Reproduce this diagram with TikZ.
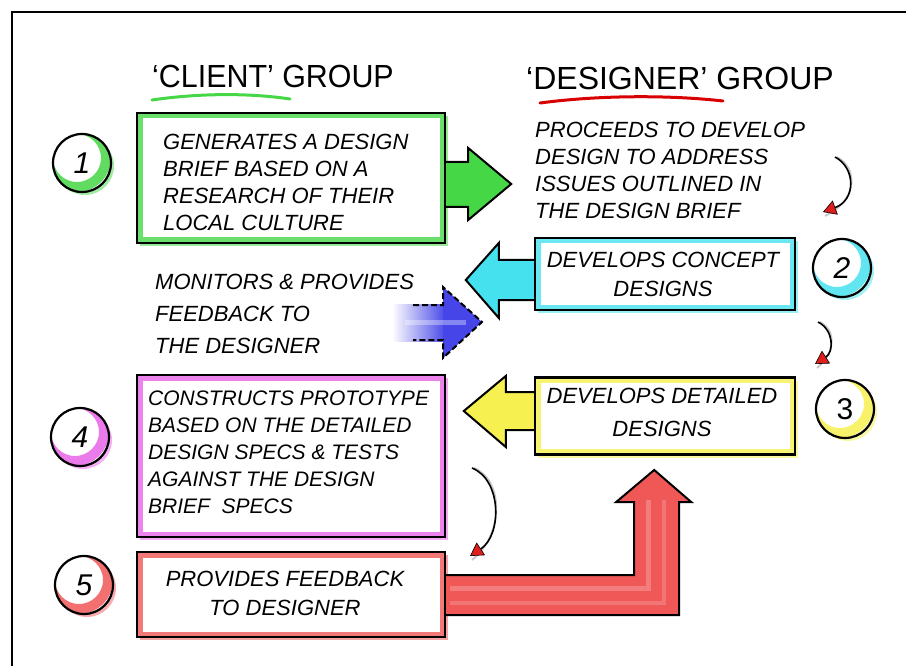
\documentclass[tikz,border=0pt]{standalone}
\usepackage{fontspec}
\setmainfont{Liberation Sans}
\usetikzlibrary{shadows,calc,arrows.meta}
\definecolor{grn}{RGB}{70,215,70}
\definecolor{cyn}{RGB}{70,225,238}
\definecolor{ylw}{RGB}{246,240,80}
\definecolor{mag}{RGB}{232,100,232}
\definecolor{rd}{RGB}{240,88,88}
\definecolor{blu}{RGB}{70,70,232}
\definecolor{arrred}{RGB}{225,30,30}
\tikzset{
  box/.style={rectangle, draw=black, line width=2.4pt, fill=white, inner sep=0pt,
    path picture={\draw[#1, line width=11pt, opacity=.8] (path picture bounding box.south west) rectangle (path picture bounding box.north east);},
    drop shadow={shadow xshift=3pt, shadow yshift=-3pt, fill=#1, opacity=.55}},
  numc/.style={circle, draw=black, line width=2.2pt, fill=white, minimum size=58pt, inner sep=0pt,
    font=\itshape\fontsize{30}{30}\selectfont,
    path picture={\draw[#1, line width=10pt, opacity=.85] ([shift={(-5pt,5pt)}]path picture bounding box.center) circle (29pt);},
    drop shadow={shadow xshift=3pt, shadow yshift=-3pt, fill=#1, opacity=.5}},
  txt/.style={inner sep=0pt, align=left, anchor=west, font=\itshape\fontsize{22}{#1}\selectfont},
  txt/.default=27,
  ctxt/.style={inner sep=0pt, align=center, font=\itshape\fontsize{22}{#1}\selectfont},
  ctxt/.default=29,
  ttl/.style={inner sep=0pt, font=\fontsize{32}{32}\selectfont},
  blk/.style={draw=black, line width=2pt, line join=miter, fill=#1},
  curv/.style={line width=1.6pt, -{Triangle[length=13pt, width=15pt, fill=arrred, color=black, line width=0.6pt]}},
  curvsh/.style={line width=1.8pt, gray!45},
  ul/.style={line width=3pt, line cap=round, #1},
}
\begin{document}
\begin{tikzpicture}[x=1pt, y=-1pt]
\useasboundingbox (0,0) rectangle (906,666);
% frame
\draw[line width=2.5pt] (12,666) -- (12,12) -- (906,12);
% titles
\node[ttl] (tc) at (273,76) {\scalebox{0.95}[1]{‘CLIENT’ GROUP}};
\node[ttl] (td) at (680,78) {‘DESIGNER’ GROUP};
\draw[ul=grn] (152,100) .. controls (200,93) and (250,93) .. (290,99);
\draw[ul=red!85!black] (540,103) .. controls (600,95) and (670,95) .. (723,101);
% boxes
\node[box=grn, minimum width=308pt, minimum height=130pt] (b1) at (291,178) {};
\node[box=cyn, minimum width=260pt, minimum height=72pt] (b2) at (665,274) {};
\node[box=ylw, minimum width=260pt, minimum height=77pt] (b3) at (665,416) {};
\node[box=mag, minimum width=308pt, minimum height=162pt] (b4) at (291,456) {};
\node[box=rd, minimum width=308pt, minimum height=85pt] (b5) at (291,594.5) {};
% block arrows
\filldraw[blk=grn] ($(b1.east)+(0,-16)$) -- ++(22,0) -- ++(0,-14) -- ++(43,36) -- ++(-43,36) -- ++(0,-13) -- ++(-22,0);
\filldraw[blk=cyn] ($(b2.west)+(0,-14)$) -- ++(-35,0) -- ++(0,-17) -- ++(-33,37) -- ++(33,38) -- ++(0,-18) -- ++(35,0);
\filldraw[blk=ylw] ($(b3.west)+(0,-24)$) -- ++(-28,0) -- ++(0,-16) -- ++(-42,35) -- ++(42,36) -- ++(0,-17) -- ++(28,0);
\filldraw[blk=rd] ($(b5.east)+(0,-19.5)$) -- ++(188,0) -- ++(0,-73) -- ++(-18,0) -- ++(38,-32) -- ++(37,32) -- ++(-12,0) -- ++(0,113) -- ++(-233,0);
\draw[white, opacity=.22, line width=5pt] (450,588) -- (648,588) -- (648,500);
\draw[white, opacity=.18, line width=4pt] (450,603) -- (664,603) -- (664,500);
% blue feedback arrow
\shade[left color=white, right color=blu] (392,304) rectangle (446,341);
\fill[blu] (443,305) -- (443,287) -- (482,322) -- (443,358) -- (443,340) -- cycle;
\draw[white, opacity=.35, line width=5pt] (405,322) -- (466,322);
\draw[black, line width=2pt, dash pattern=on 6pt off 3pt] (413,305) -- (443,305) -- (443,287) -- (482,322) -- (443,358) -- (443,340) -- (413,340);
% texts
\node[txt] (t1) at (163,182) {GENERATES A DESIGN\\BRIEF BASED ON A\\RESEARCH OF THEIR\\LOCAL CULTURE};
\node[txt] (tp) at (535,170) {PROCEEDS TO DEVELOP\\DESIGN TO ADDRESS\\ISSUES OUTLINED IN\\THE DESIGN BRIEF};
\node[ctxt=29] (t2) at (663,274) {DEVELOPS CONCEPT\\DESIGNS};
\node[txt=32] (tm) at (155,314) {MONITORS \& PROVIDES\\FEEDBACK TO\\THE DESIGNER};
\node[ctxt=33] (t3) at (662,412) {DEVELOPS DETAILED\\DESIGNS};
\node[txt, font=\itshape\fontsize{21}{27}\selectfont] (t4) at (148,452) {CONSTRUCTS PROTOTYPE\\BASED ON THE DETAILED\\DESIGN SPECS \& TESTS\\AGAINST THE DESIGN\\BRIEF\ \ SPECS};
\node[ctxt=29] (t5) at (285,593) {PROVIDES FEEDBACK\\TO DESIGNER};
% number circles
\node[numc=grn] (c1) at (82,163) {1};
\node[numc=cyn] (c2) at (842,268) {2};
\node[numc=ylw] (c3) at (845,409) {\upshape 3};
\node[numc=mag] (c4) at (80,437) {4};
\node[numc=rd] (c5) at (84,585) {5};
% curved arrows
\coordinate (a1s) at (835,157); \coordinate (a1e) at (823,212);
\coordinate (a2s) at (818,322); \coordinate (a2e) at (815,364);
\coordinate (a3s) at (472,468); \coordinate (a3e) at (470,556);
\draw[curvsh] ([xshift=2pt]a1s) .. controls (858,168) and (858,200) .. ([xshift=2pt,yshift=-4pt]a1e);
\draw[curv] (a1s) .. controls (856,168) and (856,200) .. (a1e);
\draw[curvsh] ([xshift=2pt]a2s) .. controls (836,330) and (836,352) .. ([xshift=2pt,yshift=-4pt]a2e);
\draw[curv] (a2s) .. controls (834,330) and (834,352) .. (a2e);
\draw[curvsh] ([xshift=2pt]a3s) .. controls (504,480) and (504,535) .. ([xshift=2pt,yshift=-4pt]a3e);
\draw[curv] (a3s) .. controls (502,480) and (502,535) .. (a3e);
\end{tikzpicture}
\end{document}
